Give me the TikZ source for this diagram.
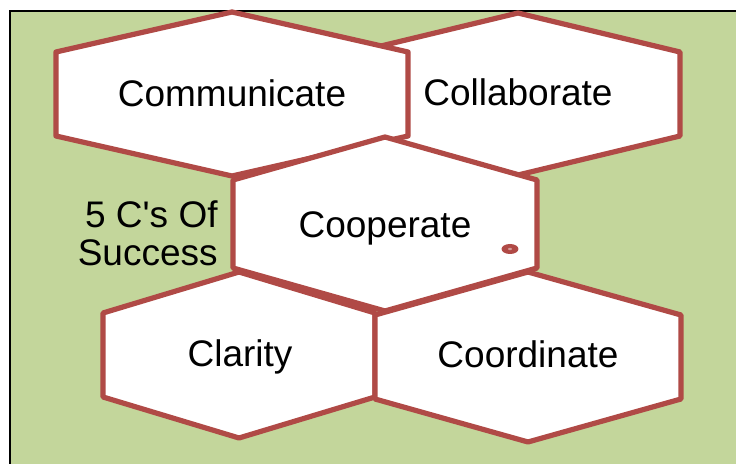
\documentclass[tikz,border=0pt]{standalone}
\usepackage{fontspec}
\setmainfont{Liberation Sans}
\usepackage{tikz}

\definecolor{leaf}{RGB}{195,214,155}
\definecolor{rim}{RGB}{176,74,70}

\begin{document}
\begin{tikzpicture}[x=0.5pt,y=-0.5pt]
  \tikzset{
    cell/.style={draw=rim, fill=white, line width=2.6pt, line join=round},
    word/.style={font=\fontsize{18.5}{19}\selectfont, inner sep=0pt, anchor=base},
    frame/.style={draw=black, line width=1pt},
  }
  \useasboundingbox (0,0) rectangle (736,464);
  \fill[white] (0,0) rectangle (736,464);
  \fill[leaf] (10,11) rectangle (740,470);
  \draw[frame] (10,470) -- (10,11) -- (740,11);

  % cells: centre x / centre y / half width / half side / tip / name / text
  \foreach \cx/\cy/\w/\s/\p/\nm/\txt in {
      518/94/162/42/81/collab/Collaborate,
      232/94/176/42/82/comm/Communicate,
      385/224/152/44/87/coop/Cooperate,
      239/355/136/42/83/clar/Clarity,
      528/357/153/42/85/coord/Coordinate}{
    \draw[cell] (\cx-\w,\cy-\s) -- (\cx,\cy-\p) -- (\cx+\w,\cy-\s)
      -- (\cx+\w,\cy+\s) -- (\cx,\cy+\p) -- (\cx-\w,\cy+\s) -- cycle;
  }

  \node[word] (comm)   at (232,107) {Communicate};
  \node[word] (collab) at (518,106) {Collaborate};
  \node[word] (coop)   at (385,238) {Cooperate};
  \node[word] (clar)   at (240,367) {Clarity};
  \node[word] (coord)  at (528,368) {Coordinate};

  \node[word, anchor=east, align=right] (title) at (218,233)
    {5 C\textquotesingle s Of\\Success};

  % small mark on the middle cell
  \fill[rim] (510,249) ellipse (8.5 and 5);
  \fill[rim!55!white] (510,249) ellipse (2 and 1.2);
\end{tikzpicture}
\end{document}
